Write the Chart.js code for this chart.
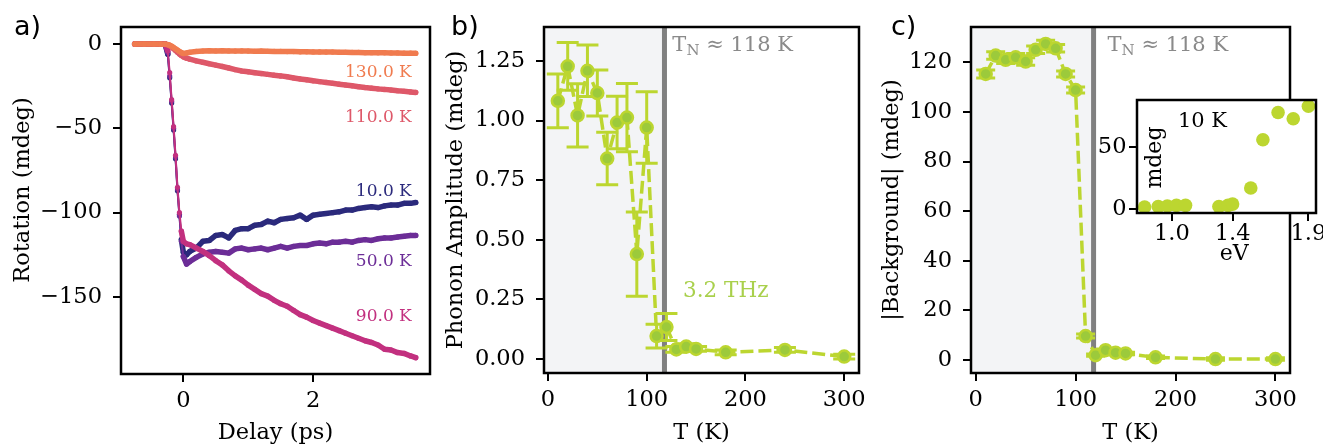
<!DOCTYPE html>
<html>
<head>
<meta charset="utf-8">
<script src="https://cdn.jsdelivr.net/npm/chart.js@4.4.0/dist/chart.umd.min.js"></script>
<style>
html, body { margin: 0; padding: 0; background: #fff; overflow: hidden; width: 1323px; height: 444px; }
canvas { position: absolute; }
</style>
</head>
<body>
<canvas id="chartA" width="440" height="460" style="left:0px;top:0px"></canvas>
<canvas id="chartB" width="450" height="460" style="left:440px;top:0px"></canvas>
<canvas id="chartC" width="453" height="460" style="left:870px;top:0px"></canvas>
<canvas id="chartInset" width="260" height="190" style="left:1080px;top:80px"></canvas>
<script>
// panel a: rotation vs delay
var delay = [-0.75, -0.6, -0.45, -0.35, -0.28, -0.24, -0.21, -0.18, -0.15, -0.12, -0.09, -0.06, -0.03, 0, 0.05, 0.1,
    0.2, 0.3, 0.4, 0.5, 0.6, 0.7, 0.8, 0.9, 1.0, 1.1, 1.2, 1.3, 1.4, 1.5, 1.6, 1.7, 1.8, 1.9, 2.0, 2.1, 2.2, 2.3, 2.4,
    2.5, 2.6, 2.7, 2.8, 2.9, 3.0, 3.1, 3.2, 3.3, 3.4, 3.5, 3.58];
var rot130 = [0, 0, 0, 0, -0.1, -0.3, -0.7, -1.3, -2.0, -2.8, -3.6, -4.4, -5.1, -5.6, -5.3, -4.9,
    -4.4, -4.2, -4.0, -4.1, -4.0, -4.1, -4.2, -4.1, -4.2, -4.3, -4.2, -4.3, -4.4, -4.4, -4.5, -4.5, -4.6, -4.6, -4.7,
    -4.7, -4.8, -4.8, -4.9, -4.9, -5.0, -5.0, -5.1, -5.1, -5.2, -5.2, -5.3, -5.3, -5.4, -5.4, -5.5];
var rot110 = [0, 0, 0, 0, -0.1, -0.4, -1.0, -1.8, -2.8, -3.8, -4.9, -5.9, -6.8, -7.6, -8.4, -9.0,
    -10.0, -10.8, -11.7, -12.5, -13.3, -14.2, -15.2, -16.0, -16.5, -17.0, -17.5, -18.0, -18.5, -18.9, -19.4, -20.1,
    -20.7, -21.2, -21.8, -22.3, -22.8, -23.3, -23.8, -24.3, -24.8, -25.3, -25.8, -26.2, -26.6, -26.9, -27.3, -27.7,
    -28.0, -28.4, -28.7];
var rot90 = [0, 0, 0, 0, 0, -4, -17, -33, -49, -66, -85, -100, -111, -117, -118.5, -119,
    -121, -123, -125.5, -128.5, -131, -134.5, -137.5, -140, -143, -145.5, -148, -149.5, -152, -154, -155.5, -158,
    -160.5, -162, -164, -165.5, -167, -168.5, -170, -171.5, -173, -174.5, -176, -177, -178.5, -181, -181.5, -183,
    -183.5, -185, -186];
var rot50 = [0, 0, 0, 0, 0, -5, -19, -34, -50, -67, -86, -102, -117, -126, -130.5, -129,
    -126.5, -124.5, -123.5, -123, -123.5, -124, -121.5, -121, -122, -121.5, -121, -122, -121, -120, -121, -120,
    -119.5, -119.5, -118.5, -118, -118.5, -117.5, -117.5, -117, -117.5, -116.5, -116, -116.5, -115.5, -115, -115,
    -114.5, -114, -113.5, -113.5];
var rot10 = [0, 0, 0, 0, 0, -6, -20, -35, -51, -68, -87, -101, -116, -123.5, -125, -123,
    -121, -117, -116.5, -113.5, -113, -115, -110.5, -109.5, -109.5, -107.5, -107, -105, -106, -104, -103.5, -103,
    -101.5, -104, -101.5, -101, -100.5, -100, -99.5, -98.5, -98.5, -97.5, -97, -96.5, -97, -96, -95.5, -95.5,
    -94.5, -94.5, -94];

// panels b and c: temperature dependence
var temps = [10, 20, 30, 40, 50, 60, 70, 80, 90, 100, 110, 120, 130, 140, 150, 180, 240, 300];
var phononAmp = [1.083, 1.228, 1.022, 1.209, 1.116, 0.841, 0.992, 1.013, 0.44, 0.971, 0.096, 0.134, 0.04, 0.052, 0.042, 0.028, 0.038, 0.01];
var phononErr = [0.113, 0.1, 0.133, 0.108, 0.097, 0.11, 0.11, 0.143, 0.177, 0.15, 0.05, 0.057, 0.012, 0.012, 0.01, 0.01, 0.01, 0.01];
var background = [115.3, 122.7, 121, 122, 120.3, 125, 127.4, 125.6, 115.3, 108.8, 9.7, 2.0, 4.0, 3.0, 2.7, 1.1, 0.4, 0.4];
var backgroundErr = [1.6, 1.5, 1.5, 1.5, 1.5, 1.5, 1.5, 1.5, 1.2, 1.2, 0.8, 0.5, 0.5, 0.5, 0.5, 0.5, 0.5, 0.5];
var T_N = 118;

// inset: background at 10 K vs photon energy
var insetEnergy = [0.82, 0.91, 0.97, 1.03, 1.09, 1.31, 1.37, 1.40, 1.52, 1.60, 1.70, 1.80, 1.90];
var insetSignal = [1.6, 2, 2.5, 3, 3, 2, 3, 4, 17, 56, 78, 73, 83];

var ticksDelay = [0, 2];
var ticksRotation = [0, -50, -100, -150];
var ticksTemp = [0, 100, 200, 300];
var ticksAmp = [0, 0.25, 0.5, 0.75, 1.0, 1.25];
var ticksBg = [0, 20, 40, 60, 80, 100, 120];
var ticksEnergy = [1.0, 1.4, 1.9];
var ticksInsetY = [0, 50];

var c10 = '#2b2a7c', c50 = '#6c2d97', c90 = '#c2307f', c110 = '#de5869', c130 = '#f07b4f';
var green = '#bcd630', greenFill = '#9cca3b', shade = '#f3f4f6', grey = '#808080';
var FS = 22.5;

Chart.defaults.font.family = "'DejaVu Serif', serif";
Chart.defaults.font.size = FS;
Chart.defaults.color = '#000';

function fmtMinus(v) { return v < 0 ? '\u2212' + Math.abs(v) : String(v); }

function pts(xs, ys) {
    return xs.map(function (x, i) { return { x: x, y: ys[i] }; });
}

function axis(o) {
    return {
        type: 'linear',
        min: o.min,
        max: o.max,
        afterBuildTicks: function (scale) {
            scale.ticks = o.ticks.map(function (v) { return { value: v }; });
        },
        afterFit: function (scale) {
            if (o.width) scale.width = o.width;
            if (o.height) scale.height = o.height;
        },
        border: { display: false },
        grid: { drawOnChartArea: false, drawTicks: true, tickLength: 8, color: '#000', lineWidth: 2 },
        ticks: {
            autoSkip: false, maxRotation: 0, padding: o.pad, color: '#000', font: { size: FS },
            callback: o.fmt || function (v) { return String(v); }
        },
        title: o.title ? { display: true, text: o.title, color: '#000', font: { size: FS }, padding: o.titlePad } : { display: false }
    };
}

function baseOptions(pad, x, y) {
    return {
        responsive: false,
        animation: false,
        devicePixelRatio: 1,
        events: [],
        layout: { padding: pad },
        plugins: { legend: { display: false }, tooltip: { enabled: false } },
        scales: { x: x, y: y }
    };
}

function drawParts(ctx, parts, x, y, color, align) {
    ctx.fillStyle = color;
    ctx.textBaseline = 'alphabetic';
    ctx.textAlign = 'left';
    var total = 0;
    parts.forEach(function (p) {
        ctx.font = p.size + "px " + (p.family || "'DejaVu Serif'");
        total += ctx.measureText(p.text).width;
    });
    if (align == 'right') x -= total;
    if (align == 'center') x -= total / 2;
    parts.forEach(function (p) {
        ctx.font = p.size + "px " + (p.family || "'DejaVu Serif'");
        ctx.fillText(p.text, x, y + (p.dy || 0));
        x += ctx.measureText(p.text).width;
    });
}

function makeDecor(cfg) {
    return {
        id: 'decor',
        beforeDatasetsDraw: function (chart) {
            var ctx = chart.ctx, a = chart.chartArea, xs = chart.scales.x, ys = chart.scales.y;
            ctx.save();
            ctx.beginPath();
            ctx.rect(a.left, a.top, a.right - a.left, a.bottom - a.top);
            ctx.clip();
            if (cfg.white) {
                ctx.fillStyle = '#fff';
                ctx.fillRect(a.left, a.top, a.right - a.left, a.bottom - a.top);
            }
            if (cfg.shadeTo != null) {
                var xp = xs.getPixelForValue(cfg.shadeTo);
                ctx.fillStyle = shade;
                ctx.fillRect(a.left, a.top, xp - a.left, a.bottom - a.top);
                ctx.strokeStyle = grey;
                ctx.lineWidth = 5;
                ctx.beginPath();
                ctx.moveTo(xp, a.top);
                ctx.lineTo(xp, a.bottom);
                ctx.stroke();
            }
            if (cfg.errors) {
                var e = cfg.errors;
                ctx.strokeStyle = green;
                ctx.lineWidth = 3;
                e.x.forEach(function (xv, i) {
                    var px = xs.getPixelForValue(xv);
                    var lo = ys.getPixelForValue(e.y[i] - e.err[i]);
                    var hi = ys.getPixelForValue(e.y[i] + e.err[i]);
                    ctx.beginPath();
                    ctx.moveTo(px, lo); ctx.lineTo(px, hi);
                    ctx.moveTo(px - e.cap, lo); ctx.lineTo(px + e.cap, lo);
                    ctx.moveTo(px - e.cap, hi); ctx.lineTo(px + e.cap, hi);
                    ctx.stroke();
                });
            }
            ctx.restore();
        },
        afterDatasetsDraw: function (chart) {
            var ctx = chart.ctx, a = chart.chartArea;
            ctx.save();
            ctx.strokeStyle = '#000';
            ctx.lineWidth = 2.5;
            ctx.strokeRect(a.left, a.top, a.right - a.left, a.bottom - a.top);
            ctx.restore();
        },
        afterDraw: function (chart) {
            var ctx = chart.ctx, xs = chart.scales.x, ys = chart.scales.y;
            (cfg.texts || []).forEach(function (t) {
                var px = t.px ? t.px[0] : xs.getPixelForValue(t.at[0]);
                var py = t.px ? t.px[1] : ys.getPixelForValue(t.at[1]);
                ctx.save();
                if (t.rotate) {
                    ctx.translate(px, py);
                    ctx.rotate(-Math.PI / 2);
                    drawParts(ctx, t.parts, 0, 0, t.color, 'center');
                } else {
                    drawParts(ctx, t.parts, px, py, t.color, t.align);
                }
                ctx.restore();
            });
        }
    };
}

function tnParts() {
    return [{ text: 'T', size: 21 }, { text: 'N', size: 15, dy: 4 }, { text: ' \u2248 118 K', size: 21 }];
}

function rotSeries(vals, color) {
    return {
        data: pts(delay, vals),
        borderColor: color,
        backgroundColor: color,
        borderWidth: 4,
        borderCapStyle: 'round',
        borderJoinStyle: 'round',
        pointRadius: 2.6,
        pointBorderWidth: 0,
        pointBackgroundColor: color,
        segment: {
            borderWidth: function (ctx) {
                return Math.abs(ctx.p1.parsed.y - ctx.p0.parsed.y) > 8 ? 2 : 5.5;
            }
        }
    };
}

function tempSeries(vals) {
    return {
        data: pts(temps, vals),
        borderColor: green,
        borderWidth: 3.5,
        borderDash: [13, 5],
        pointRadius: 6,
        pointBorderWidth: 2.5,
        pointBorderColor: green,
        pointBackgroundColor: greenFill
    };
}

// panel a
new Chart(document.getElementById('chartA'), {
    type: 'line',
    data: {
        datasets: [
            rotSeries(rot130, c130),
            rotSeries(rot110, c110),
            rotSeries(rot90, c90),
            rotSeries(rot50, c50),
            rotSeries(rot10, c10)
        ]
    },
    options: baseOptions({ left: 0, top: 27, right: 10, bottom: 0 },
        axis({ min: -0.96, max: 3.80, ticks: ticksDelay, height: 86, pad: 6, title: 'Delay (ps)', titlePad: { top: 0, bottom: 13 } }),
        axis({ min: -195.7, max: 10.1, ticks: ticksRotation, width: 121, pad: 11, fmt: fmtMinus })),
    plugins: [makeDecor({
        texts: [
            { at: [3.52, -19.75], parts: [{ text: '130.0 K', size: 17 }], color: c130, align: 'right' },
            { at: [3.52, -46.1], parts: [{ text: '110.0 K', size: 17 }], color: c110, align: 'right' },
            { at: [3.52, -90], parts: [{ text: '10.0 K', size: 17 }], color: c10, align: 'right' },
            { at: [3.52, -131.7], parts: [{ text: '50.0 K', size: 17 }], color: c50, align: 'right' },
            { at: [3.52, -164.3], parts: [{ text: '90.0 K', size: 17 }], color: c90, align: 'right' },
            { px: [29, 190], parts: [{ text: 'Rotation (mdeg)', size: FS }], color: '#000', rotate: true },
            { px: [14, 35], parts: [{ text: 'a)', size: 27, family: "'DejaVu Sans'" }], color: '#000' }
        ]
    })]
});

// panel b
new Chart(document.getElementById('chartB'), {
    type: 'line',
    data: { datasets: [tempSeries(phononAmp)] },
    options: baseOptions({ left: 0, top: 27, right: 31, bottom: 0 },
        axis({ min: -4, max: 315, ticks: ticksTemp, height: 87, pad: 6, title: 'T (K)', titlePad: { top: 0, bottom: 13.5 } }),
        axis({ min: -0.059, max: 1.393, ticks: ticksAmp, width: 104, pad: 11, fmt: function (v) { return v.toFixed(2); }, title: 'Phonon Amplitude (mdeg)', titlePad: { top: 2.5, bottom: 0 } })),
    plugins: [makeDecor({
        shadeTo: T_N,
        errors: { x: temps, y: phononAmp, err: phononErr, cap: 11 },
        texts: [
            { at: [126, 1.292], parts: tnParts(), color: '#8a8a8a' },
            { at: [136.8, 0.261], parts: [{ text: '3.2 THz', size: 21.5 }], color: '#a9d04c' },
            { px: [11, 35], parts: [{ text: 'b)', size: 27, family: "'DejaVu Sans'" }], color: '#000' }
        ]
    })]
});

// panel c
new Chart(document.getElementById('chartC'), {
    type: 'line',
    data: { datasets: [tempSeries(background)] },
    options: baseOptions({ left: 0, top: 27, right: 33, bottom: 0 },
        axis({ min: -4.7, max: 314.6, ticks: ticksTemp, height: 87, pad: 6, title: 'T (K)', titlePad: { top: 0, bottom: 13.5 } }),
        axis({ min: -5.2, max: 134.2, ticks: ticksBg, width: 101, pad: 11, title: '|Background| (mdeg)', titlePad: { top: 8.5, bottom: 0 } })),
    plugins: [makeDecor({
        shadeTo: T_N,
        errors: { x: temps, y: background, err: backgroundErr, cap: 9.5 },
        texts: [
            { at: [132, 124.5], parts: tnParts(), color: '#8a8a8a' },
            { px: [21, 35], parts: [{ text: 'c)', size: 27, family: "'DejaVu Sans'" }], color: '#000' }
        ]
    })]
});

// inset of panel c
new Chart(document.getElementById('chartInset'), {
    type: 'line',
    data: {
        datasets: [{
            data: pts(insetEnergy, insetSignal),
            showLine: false,
            pointRadius: 6.8,
            pointBorderWidth: 0,
            pointBackgroundColor: green
        }]
    },
    options: baseOptions({ left: 0, top: 20, right: 24, bottom: 0 },
        axis({ min: 0.77, max: 1.95, ticks: ticksEnergy, height: 57, pad: 0, fmt: function (v) { return v.toFixed(1); } }),
        axis({ min: -3.2, max: 88.1, ticks: ticksInsetY, width: 57, pad: 2.5 })),
    plugins: [makeDecor({
        white: true,
        texts: [
            { at: [1.04, 66], parts: [{ text: '10 K', size: 21 }], color: '#000' },
            { at: [0.925, 41.6], parts: [{ text: 'mdeg', size: 22 }], color: '#000', rotate: true },
            { at: [1.41, -41.2], parts: [{ text: 'eV', size: 22 }], color: '#000', align: 'center' }
        ]
    })]
});
</script>
</body>
</html>
